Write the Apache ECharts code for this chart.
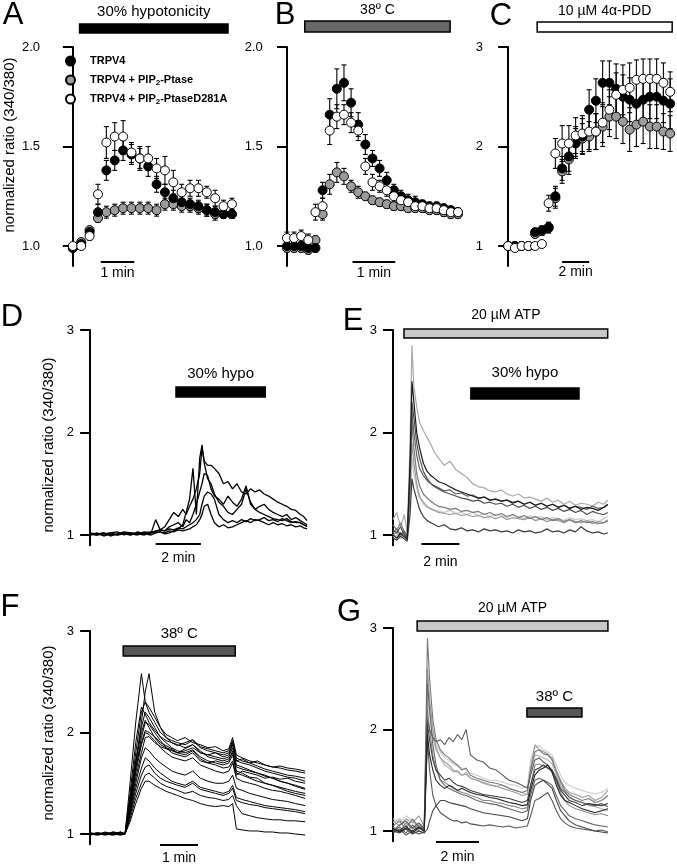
<!DOCTYPE html>
<html><head><meta charset="utf-8">
<script src="https://cdn.jsdelivr.net/npm/echarts@6/dist/echarts.min.js"></script>
<style>html,body{margin:0;padding:0;background:#fff}#c{width:677px;height:867px}</style>
</head><body><div id="c"></div>
<script>
// ---------------- DATA ----------------
const names = ['TRPV4','TRPV4 + PIP2-Ptase','TRPV4 + PIP2-PtaseD281A'];
// Panel A (s)
const tA = [0,15,30,45,60,75,90,105,120,135,150,165,180,195,210,225,240,255,270,285];
const aBlack = [0.99,1.01,1.07,1.17,1.38,1.43,1.48,1.46,1.44,1.40,1.31,1.27,1.24,1.22,1.21,1.20,1.18,1.17,1.16,1.16];
const aGray  = [0.99,1.02,1.08,1.14,1.17,1.18,1.19,1.19,1.19,1.19,1.18,1.21,1.21,1.20,1.20,1.19,1.18,1.16,1.16,1.16];
const aWhite = [1.00,1.00,1.05,1.26,1.52,1.55,1.55,1.47,1.44,1.44,1.39,1.38,1.32,1.27,1.29,1.29,1.27,1.24,1.20,1.21];
const aBlackErr = [0.01,0.01,0.02,0.04,0.05,0.05,0.05,0.05,0.05,0.05,0.04,0.04,0.04,0.03,0.03,0.03,0.03,0.03,0.02,0.02];
const aGrayErr  = [0.01,0.01,0.01,0.02,0.03,0.03,0.03,0.03,0.03,0.03,0.03,0.03,0.03,0.03,0.03,0.03,0.03,0.03,0.02,0.02];
const aWhiteErr = [0.01,0.01,0.02,0.05,0.08,0.07,0.08,0.05,0.06,0.06,0.05,0.07,0.06,0.04,0.04,0.04,0.03,0.04,0.03,0.03];
// Panel B (s)
const tB = [0,10,20,30,40,50,60,70,80,90,100,110,120,130,140,150,160,170,180,190,200,210,220,230,240];
const bBlack = [1.00,1.00,1.00,0.99,0.99,1.28,1.66,1.79,1.82,1.72,1.61,1.51,1.44,1.39,1.33,1.28,1.25,1.23,1.22,1.21,1.20,1.20,1.19,1.18,1.17];
const bGray  = [0.99,0.99,0.99,0.98,1.03,1.16,1.31,1.37,1.35,1.30,1.27,1.25,1.23,1.22,1.21,1.20,1.20,1.19,1.19,1.19,1.18,1.18,1.17,1.16,1.16];
const bWhite = [1.04,1.04,1.05,1.03,1.17,1.20,1.58,1.65,1.66,1.62,1.58,1.40,1.32,1.30,1.28,1.25,1.23,1.22,1.20,1.20,1.19,1.19,1.18,1.17,1.17];
const bBlackErr = [0.02,0.02,0.02,0.02,0.02,0.04,0.08,0.10,0.09,0.07,0.06,0.05,0.04,0.04,0.04,0.03,0.03,0.03,0.03,0.02,0.02,0.02,0.02,0.02,0.02];
const bGrayErr  = [0.02,0.02,0.02,0.02,0.02,0.03,0.05,0.05,0.04,0.03,0.03,0.02,0.02,0.02,0.02,0.02,0.02,0.02,0.02,0.02,0.02,0.02,0.02,0.02,0.02];
const bWhiteErr = [0.03,0.03,0.03,0.03,0.04,0.04,0.07,0.06,0.05,0.05,0.05,0.04,0.04,0.03,0.03,0.03,0.03,0.03,0.02,0.02,0.02,0.02,0.02,0.02,0.02];
// Panel C (min)
const tC = [0,0.5,1,1.5,2,2.5,3,3.5,4,4.5,5,5.5,6,6.5,7,7.5,8,8.5,9,9.5,10,10.5,11,11.5,12];
const cBlack = [1.00,1.00,1.00,1.00,1.14,1.16,1.19,1.50,1.78,1.90,2.03,2.10,2.37,2.46,2.64,2.64,2.58,2.50,2.47,2.43,2.47,2.50,2.50,2.46,2.43];
const cGray  = [1.00,1.00,1.00,1.00,1.12,1.15,1.18,1.48,1.75,1.87,2.05,2.08,2.10,2.15,2.20,2.30,2.30,2.25,2.17,2.22,2.25,2.20,2.20,2.15,2.13];
const cWhite = [1.00,0.98,1.00,1.00,1.00,1.02,1.43,1.93,2.03,2.03,2.11,2.13,2.15,2.15,2.24,2.37,2.52,2.57,2.59,2.67,2.68,2.68,2.68,2.64,2.55];
const cBlackErr = [0.01,0.01,0.01,0.01,0.03,0.04,0.05,0.10,0.12,0.15,0.15,0.18,0.20,0.22,0.22,0.22,0.25,0.22,0.22,0.22,0.20,0.22,0.22,0.22,0.25];
const cGrayErr  = [0.01,0.01,0.01,0.01,0.03,0.04,0.05,0.10,0.12,0.15,0.15,0.15,0.15,0.18,0.20,0.20,0.22,0.22,0.22,0.22,0.22,0.22,0.22,0.18,0.18];
const cWhiteErr = [0.01,0.01,0.01,0.01,0.01,0.02,0.08,0.15,0.18,0.18,0.18,0.18,0.18,0.18,0.20,0.20,0.22,0.25,0.25,0.20,0.20,0.20,0.20,0.20,0.20];
// Panel D (min)
const tD = [0,0.3,0.6,0.9,1.2,1.5,1.8,2.1,2.4,2.7,2.9,3.1,3.3,3.5,3.7,3.9,4.1,4.25,4.4,4.55,4.7,4.85,4.95,5.05,5.2,5.35,5.5,5.7,5.9,6.1,6.3,6.5,6.7,6.9,7.1,7.3,7.5,7.7,7.9,8.1,8.3,8.5,8.7,8.9,9.1,9.3,9.45,9.6];
const d1 = [1.01,1.0,1.02,0.99,1.01,1.02,1.0,1.03,1.01,1.02,1.02,1.03,1.01,1.02,1.04,1.06,1.1,1.22,1.35,1.65,1.2,1.75,1.88,1.7,1.55,1.5,1.4,1.32,1.28,1.22,1.2,1.25,1.3,1.45,1.32,1.25,1.22,1.2,1.18,1.16,1.15,1.14,1.16,1.13,1.12,1.12,1.1,1.09];
const d2 = [1.0,1.02,0.99,1.01,1.0,1.02,1.01,1.0,1.02,1.03,1.03,1.05,1.08,1.15,1.22,1.18,1.25,1.2,1.28,1.35,1.45,1.6,1.85,1.72,1.68,1.68,1.65,1.6,1.5,1.52,1.45,1.5,1.42,1.4,1.45,1.42,1.44,1.4,1.38,1.35,1.32,1.3,1.28,1.25,1.24,1.2,1.18,1.14];
const d3 = [1.02,1.01,1.0,1.02,1.03,1.0,1.02,1.01,1.03,1.02,1.04,1.05,1.04,1.08,1.1,1.12,1.08,1.15,1.12,1.2,1.3,1.42,1.5,1.6,1.58,1.45,1.38,1.35,1.3,1.38,1.32,1.28,1.35,1.48,1.3,1.25,1.28,1.3,1.25,1.22,1.2,1.18,1.2,1.15,1.17,1.14,1.12,1.1];
const d4 = [1.0,1.01,1.02,1.0,1.01,1.03,1.02,1.01,1.0,1.02,1.15,1.05,1.04,1.06,1.05,1.07,1.06,1.08,1.1,1.12,1.15,1.2,1.3,1.38,1.42,1.4,1.35,1.2,1.15,1.12,1.14,1.12,1.15,1.13,1.16,1.14,1.15,1.17,1.14,1.15,1.13,1.16,1.14,1.12,1.13,1.12,1.1,1.08];
const d5 = [1.01,1.0,1.01,1.02,1.0,1.01,1.0,1.02,1.01,1.0,1.02,1.03,1.02,1.04,1.03,1.05,1.04,1.05,1.06,1.08,1.1,1.15,1.2,1.28,1.3,1.2,1.12,1.08,1.1,1.07,1.08,1.1,1.12,1.14,1.12,1.15,1.14,1.12,1.1,1.12,1.1,1.11,1.09,1.1,1.08,1.09,1.07,1.06];
// Panel E (min)
const tE = [0,0.2,0.4,0.6,0.75,0.9,1.0,1.1,1.25,1.4,1.6,1.8,2.0,2.2,2.4,2.7,3.0,3.3,3.6,3.9,4.2,4.5,4.8,5.1,5.4,5.7,6.0,6.3,6.6,6.9,7.2,7.5,7.8,8.1,8.4,8.7,9.0,9.3,9.6,9.9,10.2,10.5,10.8,11.1,11.3];
const e1 = [1.15,1.22,1.08,1.2,1.02,1.9,2.85,2.45,2.25,2.1,2.02,1.95,1.88,1.8,1.75,1.68,1.72,1.64,1.6,1.56,1.5,1.47,1.46,1.43,1.42,1.44,1.4,1.38,1.4,1.36,1.37,1.35,1.33,1.36,1.32,1.34,1.3,1.33,1.29,1.31,1.3,1.28,1.32,1.3,1.34];
const e2 = [1.0,0.97,1.02,0.98,0.96,1.7,2.5,2.3,2.0,1.85,1.7,1.62,1.58,1.55,1.52,1.5,1.47,1.44,1.42,1.4,1.38,1.36,1.37,1.34,1.35,1.33,1.34,1.31,1.33,1.3,1.32,1.29,1.31,1.28,1.3,1.27,1.29,1.26,1.28,1.25,1.27,1.26,1.24,1.27,1.3];
const e3 = [1.05,1.02,1.08,1.0,0.97,1.6,2.3,2.15,1.9,1.75,1.62,1.55,1.5,1.47,1.45,1.42,1.4,1.38,1.36,1.35,1.33,1.34,1.31,1.32,1.3,1.31,1.28,1.3,1.27,1.29,1.26,1.28,1.25,1.27,1.24,1.26,1.23,1.25,1.22,1.24,1.2,1.23,1.21,1.2,1.22];
const e4 = [1.1,1.05,1.12,1.03,0.98,1.5,2.1,1.85,1.6,1.48,1.4,1.36,1.33,1.3,1.28,1.27,1.25,1.26,1.23,1.24,1.22,1.23,1.2,1.22,1.19,1.21,1.18,1.2,1.17,1.19,1.16,1.18,1.15,1.17,1.14,1.16,1.13,1.15,1.12,1.14,1.12,1.13,1.11,1.12,1.14];
const e5 = [1.0,1.03,0.98,1.02,0.96,1.4,1.9,1.7,1.5,1.38,1.32,1.28,1.25,1.24,1.22,1.21,1.2,1.21,1.19,1.2,1.18,1.19,1.17,1.18,1.16,1.18,1.15,1.17,1.16,1.15,1.17,1.14,1.16,1.13,1.15,1.14,1.12,1.15,1.13,1.12,1.14,1.11,1.13,1.12,1.15];
const e6 = [0.98,1.0,0.96,0.99,0.95,1.3,1.75,1.6,1.45,1.36,1.3,1.27,1.26,1.24,1.23,1.22,1.24,1.21,1.22,1.2,1.22,1.19,1.21,1.18,1.2,1.19,1.17,1.2,1.18,1.16,1.19,1.17,1.18,1.15,1.17,1.16,1.14,1.17,1.15,1.16,1.14,1.15,1.13,1.16,1.18];
const e7 = [0.97,0.95,0.99,0.96,0.94,1.2,1.55,1.45,1.35,1.25,1.18,1.14,1.12,1.1,1.08,1.1,1.06,1.05,1.07,1.04,1.05,1.03,1.06,1.04,1.05,1.03,1.04,1.02,1.05,1.03,1.04,1.02,1.03,1.06,1.03,1.04,1.02,1.05,1.03,1.08,1.04,1.02,1.03,1.01,1.02];
const e8 = [1.02,1.06,1.0,1.04,0.97,1.55,2.2,2.0,1.78,1.65,1.58,1.53,1.5,1.48,1.46,1.43,1.44,1.4,1.41,1.38,1.39,1.36,1.37,1.34,1.35,1.33,1.34,1.32,1.33,1.3,1.32,1.29,1.31,1.28,1.3,1.27,1.29,1.26,1.28,1.27,1.25,1.28,1.26,1.27,1.29];
// Panel F (min)
const tF = [0,0.2,0.4,0.6,0.8,0.92,1.05,1.2,1.35,1.45,1.55,1.7,1.85,2.0,2.15,2.3,2.5,2.7,2.9,3.1,3.3,3.5,3.65,3.75,3.85,4.0,4.2,4.4,4.6,4.8,5.0,5.2,5.4,5.66];
const f1 = [1.0,0.99,1.01,1.0,1.02,1.0,1.5,2.1,2.58,2.3,2.2,2.1,2.0,1.95,1.92,1.9,1.88,1.92,1.85,1.82,1.8,1.78,1.8,1.9,1.72,1.7,1.68,1.65,1.62,1.6,1.58,1.56,1.55,1.52];
const f2 = [1.0,1.01,0.99,1.02,1.0,1.01,1.3,1.7,2.1,2.4,2.58,2.2,2.05,1.98,1.95,1.92,1.95,1.9,1.88,1.85,1.86,1.82,1.84,1.95,1.78,1.75,1.72,1.7,1.68,1.66,1.65,1.63,1.62,1.6];
const f3 = [1.01,1.0,1.0,0.99,1.01,1.0,1.35,1.8,2.2,2.3,2.25,2.15,2.05,1.95,1.9,1.88,1.85,1.88,1.8,1.78,1.76,1.74,1.76,1.85,1.68,1.66,1.63,1.6,1.58,1.55,1.52,1.5,1.48,1.45];
const f4 = [1.0,1.0,1.02,1.0,0.99,1.0,1.3,1.7,2.05,2.2,2.15,2.05,1.95,1.9,1.85,1.82,1.8,1.83,1.76,1.72,1.7,1.68,1.7,1.78,1.6,1.58,1.55,1.52,1.5,1.48,1.45,1.42,1.4,1.38];
const f5 = [1.0,1.01,1.0,1.01,1.0,1.0,1.28,1.65,1.95,2.1,2.08,2.0,1.92,1.85,1.8,1.78,1.76,1.8,1.72,1.7,1.68,1.65,1.66,1.72,1.58,1.62,1.6,1.58,1.55,1.56,1.54,1.55,1.52,1.5];
const f6 = [0.99,1.0,1.01,1.0,1.0,1.01,1.25,1.6,1.88,2.0,1.98,1.92,1.85,1.8,1.76,1.74,1.72,1.75,1.68,1.65,1.62,1.6,1.62,1.7,1.55,1.52,1.5,1.48,1.45,1.43,1.42,1.4,1.38,1.35];
const f7 = [1.0,1.0,1.0,1.02,1.01,1.0,1.25,1.55,1.8,1.95,1.96,1.9,1.86,1.84,1.82,1.8,1.82,1.85,1.8,1.78,1.8,1.76,1.78,1.88,1.72,1.74,1.7,1.72,1.68,1.66,1.67,1.65,1.64,1.62];
const f8 = [1.0,0.99,1.0,1.0,1.01,1.0,1.22,1.5,1.75,1.85,1.82,1.75,1.7,1.66,1.62,1.6,1.58,1.62,1.55,1.52,1.5,1.5,1.52,1.58,1.45,1.43,1.4,1.38,1.36,1.34,1.33,1.32,1.3,1.28];
const f9 = [1.01,1.0,1.0,1.01,1.0,1.0,1.2,1.45,1.65,1.75,1.72,1.65,1.6,1.56,1.52,1.5,1.48,1.52,1.46,1.44,1.42,1.4,1.42,1.48,1.36,1.34,1.32,1.3,1.28,1.27,1.26,1.25,1.24,1.22];
const f10 = [1.0,1.0,1.01,1.0,1.0,1.0,1.18,1.4,1.58,1.66,1.68,1.6,1.55,1.52,1.5,1.48,1.46,1.5,1.44,1.42,1.4,1.38,1.4,1.45,1.33,1.31,1.29,1.28,1.26,1.25,1.24,1.23,1.22,1.2];
const f11 = [1.0,1.01,1.0,1.0,0.99,1.0,1.15,1.35,1.5,1.58,1.6,1.55,1.5,1.47,1.45,1.43,1.4,1.42,1.38,1.36,1.35,1.33,1.34,1.38,1.28,1.2,1.18,1.16,1.15,1.14,1.14,1.13,1.13,1.12];
const f12 = [1.0,1.0,0.99,1.0,1.01,1.0,1.12,1.3,1.45,1.52,1.52,1.48,1.45,1.42,1.4,1.38,1.35,1.33,1.3,1.28,1.27,1.28,1.27,1.3,1.05,1.04,1.03,1.03,1.02,1.02,1.01,1.01,1.0,0.99];
const f13 = [1.0,1.0,1.0,1.0,1.0,1.01,1.4,1.9,2.25,2.18,2.1,2.02,1.96,1.92,1.9,1.87,1.9,1.93,1.86,1.84,1.82,1.8,1.82,1.92,1.75,1.72,1.7,1.67,1.64,1.62,1.6,1.58,1.57,1.55];
const f14 = [1.0,1.01,1.0,0.99,1.0,1.0,1.32,1.72,2.0,2.12,2.05,1.95,1.88,1.85,1.83,1.8,1.78,1.82,1.74,1.7,1.72,1.7,1.72,1.82,1.62,1.6,1.56,1.55,1.5,1.48,1.46,1.44,1.42,1.4];
const f15 = [1.01,1.0,1.0,1.0,1.02,1.0,1.3,1.65,1.9,2.02,2.0,1.96,1.9,1.87,1.84,1.8,1.84,1.88,1.82,1.76,1.74,1.72,1.74,1.8,1.66,1.64,1.62,1.6,1.57,1.55,1.52,1.5,1.47,1.44];
// Panel G (min)
const tG = [0,0.3,0.6,0.9,1.2,1.45,1.6,1.7,1.85,2.0,2.2,2.4,2.6,2.8,3.0,3.2,3.4,3.6,3.9,4.2,4.5,4.8,5.1,5.4,5.7,6.0,6.25,6.4,6.6,6.8,7.0,7.2,7.4,7.6,7.8,8.0,8.2,8.5,8.8,9.1,9.4,9.7,10.0];
const g1 = [1.05,1.1,1.02,1.12,1.04,1.03,2.9,2.5,2.1,1.9,1.8,1.75,1.72,1.68,1.65,1.6,1.62,1.55,1.52,1.5,1.48,1.47,1.45,1.42,1.4,1.38,1.4,1.6,1.78,1.8,1.76,1.75,1.7,1.58,1.48,1.4,1.36,1.33,1.3,1.32,1.28,1.3,1.35];
const g2 = [1.0,1.06,1.1,1.03,1.08,1.02,2.1,2.0,1.92,1.88,1.9,1.85,1.92,1.88,1.95,1.9,2.0,1.75,1.7,1.68,1.62,1.6,1.55,1.5,1.48,1.45,1.42,1.55,1.7,1.72,1.68,1.65,1.6,1.52,1.42,1.38,1.33,1.3,1.28,1.26,1.25,1.27,1.24];
const g3 = [1.1,1.05,1.12,1.08,1.15,1.05,2.6,2.3,2.0,1.82,1.72,1.68,1.65,1.6,1.58,1.55,1.56,1.52,1.5,1.47,1.45,1.44,1.42,1.4,1.38,1.35,1.36,1.62,1.85,1.8,1.78,1.76,1.72,1.6,1.5,1.42,1.38,1.36,1.33,1.35,1.3,1.33,1.4];
const g4 = [1.02,1.0,1.05,0.98,1.03,1.0,2.05,1.9,1.7,1.6,1.55,1.5,1.52,1.48,1.45,1.44,1.42,1.4,1.38,1.36,1.35,1.34,1.33,1.32,1.3,1.28,1.3,1.45,1.6,1.62,1.65,1.62,1.6,1.5,1.4,1.35,1.3,1.28,1.25,1.27,1.26,1.25,1.27];
const g5 = [1.08,1.12,1.05,1.1,1.02,1.06,2.3,2.15,1.92,1.8,1.72,1.65,1.62,1.58,1.6,1.55,1.58,1.52,1.5,1.48,1.46,1.44,1.45,1.42,1.4,1.38,1.36,1.58,1.75,1.74,1.72,1.7,1.66,1.55,1.45,1.38,1.34,1.3,1.28,1.25,1.24,1.22,1.2];
const g6 = [1.0,1.04,0.98,1.06,1.0,0.98,2.45,2.2,1.85,1.65,1.5,1.45,1.42,1.4,1.38,1.36,1.35,1.33,1.3,1.28,1.27,1.26,1.24,1.22,1.2,1.18,1.2,1.35,1.5,1.52,1.5,1.48,1.45,1.35,1.25,1.2,1.15,1.12,1.1,1.08,1.06,1.05,1.04];
const g7 = [1.0,0.98,1.02,0.97,1.0,0.98,1.02,1.1,1.2,1.25,1.3,1.3,1.28,1.27,1.26,1.25,1.24,1.22,1.2,1.18,1.17,1.16,1.15,1.14,1.12,1.1,1.12,1.3,1.45,1.48,1.5,1.46,1.42,1.3,1.2,1.15,1.1,1.06,1.04,1.02,1.0,0.99,0.98];
const g8 = [0.98,1.02,0.96,1.0,0.97,0.99,1.9,1.6,1.35,1.25,1.18,1.15,1.12,1.1,1.1,1.08,1.09,1.07,1.06,1.05,1.06,1.05,1.04,1.05,1.03,1.04,1.05,1.15,1.3,1.32,1.35,1.38,1.3,1.2,1.12,1.08,1.05,1.03,1.02,1.01,1.0,1.01,0.99];
const g9 = [1.04,1.0,1.08,1.02,1.06,1.01,2.2,2.0,1.75,1.6,1.5,1.48,1.45,1.42,1.4,1.38,1.37,1.35,1.33,1.3,1.3,1.28,1.27,1.25,1.24,1.22,1.23,1.45,1.65,1.66,1.64,1.62,1.58,1.48,1.38,1.3,1.25,1.22,1.2,1.18,1.16,1.17,1.15];
const g10 = [1.12,1.08,1.15,1.1,1.05,1.08,2.4,2.25,2.0,1.85,1.78,1.72,1.7,1.66,1.64,1.62,1.6,1.57,1.55,1.52,1.5,1.5,1.48,1.46,1.45,1.42,1.44,1.7,1.82,1.84,1.8,1.78,1.75,1.65,1.55,1.48,1.45,1.42,1.4,1.38,1.37,1.38,1.42];
const g11 = [1.02,0.99,1.03,1.0,1.04,1.0,1.95,1.75,1.6,1.5,1.45,1.42,1.45,1.43,1.4,1.42,1.4,1.38,1.36,1.35,1.33,1.32,1.3,1.28,1.27,1.25,1.26,1.4,1.55,1.6,1.62,1.65,1.58,1.45,1.35,1.3,1.28,1.25,1.22,1.2,1.18,1.2,1.22];
// Stimulus periods and scale bars (axis units)
const stimA = [12, 278], scaleA = [50, 110];
const stimB = [25, 229], scaleB = [92, 152];
const stimC = [2.15, 12.15], scaleC = [4, 6];
const stimD = [3.8, 7.75], scaleD = [2.9, 4.9];
const atpE = [0.58, 11.3], hypoE = [4.1, 9.79], scaleE = [1.5, 3.5];
const heatF = [0.87, 3.82], scaleF = [1.84, 2.84];
const atpG = [1.12, 10.0], heatG = [6.23, 8.79], scaleG = [2.0, 4.0];
const ticks2 = [1.0, 1.5, 2.0], ticks3 = [1, 2, 3];

// ---------------- CHART ----------------
const FONT = "'Liberation Sans', Arial, Helvetica, sans-serif";
const chart = echarts.init(document.getElementById('c'));
const G = [
  {left:55,    top:47,  width:185.3, height:218.9, xmin:-32,  xmax:300,  ymin:0.9, ymax:2.0, ticks:ticks2, dec:1},
  {left:277.7, top:47,  width:187.4, height:218.9, xmin:-13,  xmax:250,  ymin:0.9, ymax:2.0, ticks:ticks2, dec:1},
  {left:498,   top:47,  width:178.9, height:218.9, xmin:-0.75,xmax:12.5, ymin:0.8, ymax:3,   ticks:ticks3, dec:0},
  {left:89,    top:330, width:219.2, height:215.25,xmin:-0.05,xmax:9.65, ymin:0.9, ymax:3,   ticks:ticks3, dec:0},
  {left:392,   top:330, width:217.6, height:215.25,xmin:-0.05,xmax:11.4, ymin:0.9, ymax:3,   ticks:ticks3, dec:0},
  {left:89,    top:631, width:219.6, height:213.15,xmin:-0.03,xmax:5.75, ymin:0.9, ymax:3,   ticks:ticks3, dec:0},
  {left:392,   top:628, width:217,   height:213.15,xmin:-0.05,xmax:10.05,ymin:0.9, ymax:3,   ticks:ticks3, dec:0}
];
const grid = G.map(g => ({left:g.left, top:g.top, width:g.width, height:g.height, containLabel:false, outerBoundsMode:'none'}));
const xAxis = G.map((g,i) => ({gridIndex:i, type:'value', min:g.xmin, max:g.xmax, show:false}));
const yAxis = G.map((g,i) => ({
  gridIndex:i, type:'value', min:g.ymin, max:g.ymax,
  axisLine:{show:true, lineStyle:{color:'#000', width:2}},
  axisTick:{show:true, length:10, lineStyle:{color:'#000', width:2}, customValues:g.ticks},
  axisLabel:{show:true, customValues:g.ticks, margin:15, fontSize:13, color:'#000', fontFamily:FONT,
             formatter: v => Number(v).toFixed(g.dec)},
  splitLine:{show:false}
}));

const series = [];
const FILL = {'TRPV4':'#000', 'TRPV4 + PIP2-Ptase':'#9c9c9c', 'TRPV4 + PIP2-PtaseD281A':'#fff'};
function errBars(gi, t, v, e) {
  series.push({type:'custom', xAxisIndex:gi, yAxisIndex:gi, silent:true, clip:false,
    encode:{x:0, y:1}, data:t.map((x,i)=>[x, v[i], e[i]]),
    renderItem:(p, api) => {
      const x = api.value(0), y = api.value(1), er = api.value(2);
      const a = api.coord([x, y + er]), b = api.coord([x, y - er]), w = 2.5;
      const st = {stroke:'#000', lineWidth:1.1};
      return {type:'group', children:[
        {type:'line', shape:{x1:a[0], y1:a[1], x2:b[0], y2:b[1]}, style:st},
        {type:'line', shape:{x1:a[0]-w, y1:a[1], x2:a[0]+w, y2:a[1]}, style:st},
        {type:'line', shape:{x1:b[0]-w, y1:b[1], x2:b[0]+w, y2:b[1]}, style:st}]};
    }});
}
function dots(gi, name, t, v, e) {
  errBars(gi, t, v, e);
  series.push({type:'scatter', name, xAxisIndex:gi, yAxisIndex:gi, data:t.map((x,i)=>[x, v[i]]),
    symbolSize:9, itemStyle:{color:FILL[name], borderColor:'#000', borderWidth:1, opacity:1},
    emphasis:{disabled:true}, silent:true});
}
function traces(gi, t, list, colors, width) {
  list.forEach((v, k) => series.push({type:'line', xAxisIndex:gi, yAxisIndex:gi,
    data:t.map((x,i)=>[x, v[i]]), symbol:'none', showSymbol:false, silent:true,
    lineStyle:{color:colors[k % colors.length], width:width}, z:2}));
}
function stim(gi, span, yv, h, fill, label, dy, fs) {
  series.push({type:'custom', xAxisIndex:gi, yAxisIndex:gi, silent:true, clip:false, z:5,
    encode:{x:[0,1], y:2}, data:[[span[0], span[1], yv]],
    renderItem:(p, api) => {
      const a = api.coord([api.value(0), api.value(2)]), b = api.coord([api.value(1), api.value(2)]);
      const ch = [{type:'rect', shape:{x:a[0], y:a[1]-h/2, width:b[0]-a[0], height:h},
                   style:{fill:fill, stroke:'#000', lineWidth:1.5}}];
      if (label) ch.push({type:'text', style:{text:label, x:(a[0]+b[0])/2, y:a[1]+dy, align:'center',
                   verticalAlign:'middle', fontSize:fs, fontFamily:FONT, fill:'#000'}});
      return {type:'group', children:ch};
    }});
}
function scaleBar(gi, span, yv, label, dy) {
  series.push({type:'custom', xAxisIndex:gi, yAxisIndex:gi, silent:true, clip:false, z:5,
    encode:{x:[0,1], y:2}, data:[[span[0], span[1], yv]],
    renderItem:(p, api) => {
      const a = api.coord([api.value(0), api.value(2)]), b = api.coord([api.value(1), api.value(2)]);
      return {type:'group', children:[
        {type:'line', shape:{x1:a[0], y1:a[1], x2:b[0], y2:b[1]}, style:{stroke:'#000', lineWidth:2}},
        {type:'text', style:{text:label, x:(a[0]+b[0])/2, y:a[1]+dy, align:'center', verticalAlign:'middle',
          fontSize:14, fontFamily:FONT, fill:'#000'}}]};
    }});
}

// A
dots(0, names[1], tA, aGray, aGrayErr); dots(0, names[0], tA, aBlack, aBlackErr); dots(0, names[2], tA, aWhite, aWhiteErr);
stim(0, stimA, 2.093, 9, '#000', '30% hypotonicity', -16.5, 15);
scaleBar(0, scaleA, 0.92, '1 min', 11);
// B
dots(1, names[1], tB, bGray, bGrayErr); dots(1, names[0], tB, bBlack, bBlackErr); dots(1, names[2], tB, bWhite, bWhiteErr);
stim(1, stimB, 2.103, 11, '#666', '38º C', -16.5, 14);
scaleBar(1, scaleB, 0.92, '1 min', 11);
// C
dots(2, names[1], tC, cGray, cGrayErr); dots(2, names[0], tC, cBlack, cBlackErr); dots(2, names[2], tC, cWhite, cWhiteErr);
stim(2, stimC, 3.201, 10, '#fff', '10 µM 4α-PDD', -16, 14);
scaleBar(2, scaleC, 0.839, '2 min', 10);
// D
traces(3, tD, [d5, d4, d3, d2, d1], ['#000'], 1.3);
stim(3, stimD, 2.395, 10, '#000', '30% hypo', -18, 15);
scaleBar(3, scaleD, 0.912, '2 min', 14);
// E
traces(4, tE, [e6, e1, e5, e4, e8, e3, e7, e2], ['#c8c8c8','#a8a8a8','#9a9a9a','#7a7a7a','#606060','#4d4d4d','#3a3a3a','#1a1a1a'], 1.2);
stim(4, atpE, 2.966, 9, '#c8c8c8', '20 µM ATP', -18.5, 14);
stim(4, hypoE, 2.38, 11, '#000', '30% hypo', -21, 15);
scaleBar(4, scaleE, 0.912, '2 min', 18);
// F
traces(5, tF, [f1,f2,f3,f4,f5,f6,f7,f8,f9,f10,f11,f12,f13,f14,f15], ['#000'], 1);
stim(5, heatF, 2.803, 10, '#555', '38º C', -17, 15);
scaleBar(5, scaleF, 0.892, '1 min', 13);
// G
traces(6, tG, [g10, g5, g3, g9, g1, g6, g2, g8, g4, g7, g11], ['#cccccc','#b5b5b5','#9a9a9a','#8a8a8a','#777','#666','#5a5a5a','#555','#3a3a3a','#444','#222'], 1.1);
stim(6, atpG, 3.02, 10, '#c8c8c8', '20 µM ATP', -18, 14);
stim(6, heatG, 2.167, 9, '#555', '38º C', -15.5, 15);
scaleBar(6, scaleG, 0.892, '2 min', 15);

function txt(text, x, y, fs, rot) {
  return {type:'text', x:x, y:y, rotation:rot || 0, silent:true,
    style:{text:text, fontSize:fs, fontFamily:FONT, fill:'#000', align:'center', verticalAlign:'middle',
           textAlign:'center', textVerticalAlign:'middle'}};
}
const graphic = [
  txt('A', 13, 15, 31), txt('B', 285, 15, 31), txt('C', 501, 16, 31),
  txt('D', 12, 317, 31), txt('E', 353, 321, 31), txt('F', 10, 607, 31), txt('G', 349, 612, 31),
  txt('normalized ratio (340/380)', 10, 145, 15, Math.PI/2),
  txt('normalized ratio (340/380)', 49, 445, 15, Math.PI/2),
  txt('normalized ratio (340/380)', 49, 733, 15, Math.PI/2)
];

chart.setOption({
  animation:false,
  grid, xAxis, yAxis, series, graphic,
  legend:{data:names, orient:'vertical', left:60, top:49, itemWidth:9, itemHeight:9, itemGap:5,
    icon:'circle', selectedMode:false,
    formatter: n => n.replace('PIP2', 'PIP{s|2}'),
    textStyle:{fontSize:11, fontWeight:'bold', fontFamily:FONT, color:'#000', lineHeight:14, padding:[0,0,0,10],
      rich:{s:{fontSize:8, fontWeight:'bold', fontFamily:FONT, color:'#000', padding:[6,0,0,0]}}}}
});
</script></body></html>
